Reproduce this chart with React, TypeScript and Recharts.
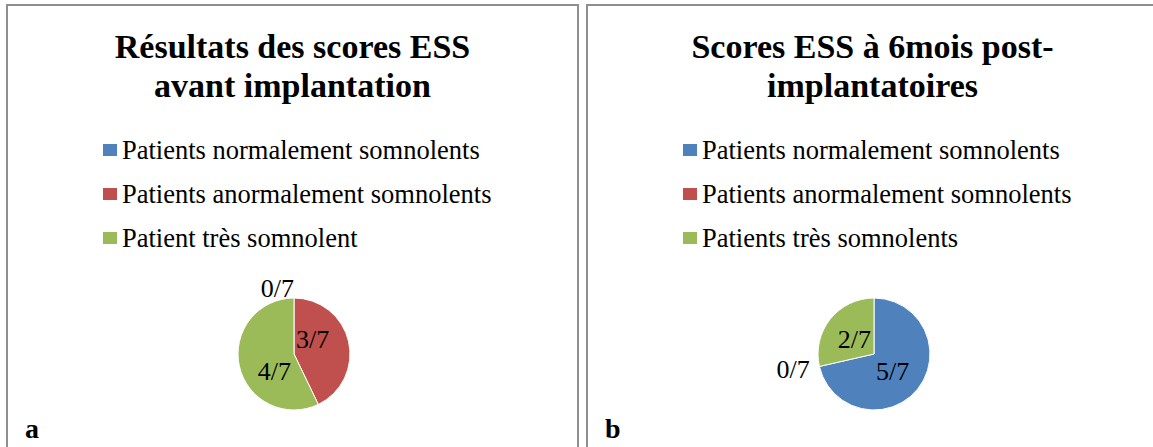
import React from 'react';
import { PieChart, Pie, Cell } from 'recharts';

// before implantation (panel a)
const CATEGORIES_BEFORE = ['Patients normalement somnolents', 'Patients anormalement somnolents', 'Patient très somnolent'];
const VALUES_BEFORE = [0, 3, 4];
const TITLE_BEFORE = ['Résultats des scores ESS', 'avant implantation'];

// 6 months after (panel b)
const CATEGORIES_AFTER = ['Patients normalement somnolents', 'Patients anormalement somnolents', 'Patients très somnolents'];
const VALUES_AFTER = [5, 0, 2];
const TITLE_AFTER = ['Scores ESS à 6mois post-', 'implantatoires'];

const COLORS = ['#4F81BD', '#C0504D', '#9BBB59'];
const FONT = '"Liberation Serif", "Times New Roman", serif';
const RAD = Math.PI / 180;

// excel "best fit": inner labels sit in the quadrant of the slice, box corner at the centre
const makeLabel = (total: number) => (props: any) => {
  const { cx, cy, midAngle, outerRadius, value, index } = props;
  const cos = Math.cos(-midAngle * RAD);
  const sin = Math.sin(-midAngle * RAD);
  let x: number, y: number, anchor: 'start' | 'middle' | 'end';
  if (value === 0) {
    const r = outerRadius + 10;
    x = cx + r * cos;
    y = cy + r * sin + 9;
    anchor = cos < 0.01 ? 'end' : 'start';
  } else {
    anchor = cos >= 0 ? 'start' : 'end';
    x = cx + (cos >= 0 ? 2 : -3);
    y = sin < 0 ? cy - 6 : cy + 26;
  }
  return (
    <text key={`lbl-${index}`} x={x} y={y} textAnchor={anchor}
      fontFamily={FONT} fontSize={26} fill="#000">
      {`${value}/${total}`}
    </text>
  );
};

interface PanelProps {
  left: number;
  tag: string;
  title: string[];
  categories: string[];
  values: number[];
}

const Panel = ({ left, tag, title, categories, values }: PanelProps) => {
  const data = categories.map((name, i) => ({ name, value: values[i] }));
  const total = values.reduce((s, v) => s + v, 0);
  return (
    <div style={{ position: 'absolute', left, top: 0, width: 580, height: 447 }}>
      <div style={{
        position: 'absolute', left: 6, top: 4, width: 573, height: 500,
        border: '2px solid #8f8f8f', borderBottom: 'none', boxSizing: 'border-box',
      }} />
      <div style={{
        position: 'absolute', left: 6, top: 27, width: 573, textAlign: 'center',
        fontFamily: FONT, fontWeight: 'bold', fontSize: 34, lineHeight: '39px', color: '#000',
      }}>
        {title.map((t) => <div key={t}>{t}</div>)}
      </div>
      <div style={{ position: 'absolute', left: 103, top: 128, fontFamily: FONT, fontSize: 26.5, color: '#000' }}>
        {data.map((d, i) => (
          <div key={d.name} style={{ display: 'flex', alignItems: 'center', height: 44, lineHeight: '44px', whiteSpace: 'nowrap' }}>
            <span style={{ display: 'inline-block', width: 14, height: 12, background: COLORS[i], marginRight: 5 }} />
            {d.name}
          </div>
        ))}
      </div>
      <div style={{ position: 'absolute', left: 0, top: 0 }}>
        <PieChart width={580} height={447} margin={{ top: 0, right: 0, bottom: 0, left: 0 }}>
          <Pie
            data={data}
            dataKey="value"
            nameKey="name"
            cx={294}
            cy={354}
            outerRadius={56}
            startAngle={90}
            endAngle={-270}
            stroke="#fff"
            strokeWidth={1}
            labelLine={false}
            label={makeLabel(total)}
            isAnimationActive={false}
          >
            {data.map((d, i) => <Cell key={`cell-${i}`} fill={COLORS[i]} />)}
          </Pie>
        </PieChart>
      </div>
      <div style={{
        position: 'absolute', left: 25, top: 415, fontFamily: FONT, fontWeight: 'bold',
        fontSize: 28, lineHeight: '28px', color: '#000',
      }}>{tag}</div>
    </div>
  );
};

export default function App() {
  return (
    <div style={{ position: 'absolute', left: 0, top: 0, width: 1153, height: 447, overflow: 'hidden', background: '#fff' }}>
      <Panel left={0} tag="a" title={TITLE_BEFORE} categories={CATEGORIES_BEFORE} values={VALUES_BEFORE} />
      <Panel left={580} tag="b" title={TITLE_AFTER} categories={CATEGORIES_AFTER} values={VALUES_AFTER} />
    </div>
  );
}
